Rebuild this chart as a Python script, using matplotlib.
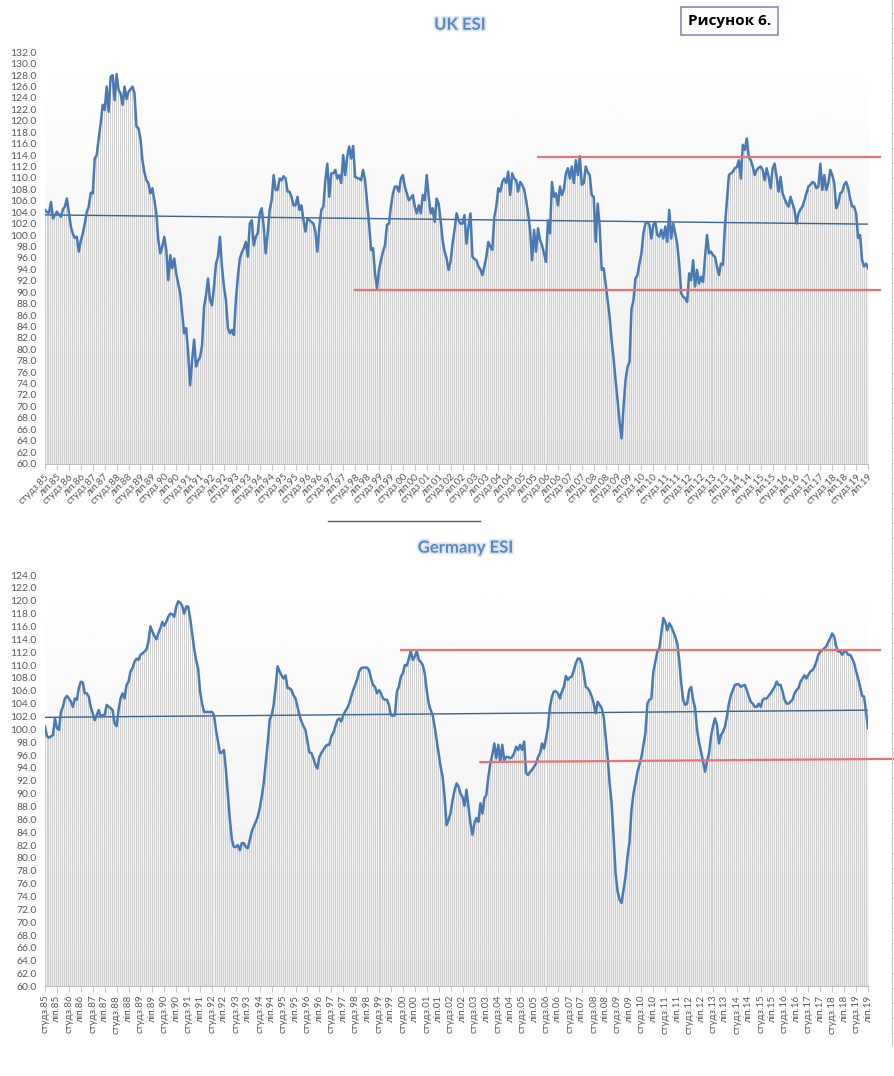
import matplotlib
matplotlib.use('Agg')
import matplotlib.pyplot as plt
import matplotlib.patheffects as pe
from matplotlib.lines import Line2D
import numpy as np

plt.rcParams['font.family'] = ['Lato', 'Open Sans', 'DejaVu Sans']

# monthly ESI, Jan 1985 .. Jul 2019 (415 months)
uk_esi = [
    104.4, 104.0, 103.9, 105.8, 102.9, 103.5, 104.1, 103.6, 103.2, 104.5, 105.0, 106.4,  # 85
    104.0, 101.5, 100.2, 99.5, 99.7, 97.1, 99.0, 100.3, 102.0, 104.0, 105.0, 107.4,      # 86
    107.3, 113.4, 114.0, 116.9, 119.5, 122.8, 121.9, 126.0, 121.6, 127.7, 128.0, 123.6,  # 87
    128.2, 125.4, 124.8, 122.8, 126.0, 123.8, 125.1, 125.5, 126.0, 124.8, 119.0, 118.7,  # 88
    116.9, 113.1, 111.0, 109.6, 109.1, 107.3, 108.2, 106.1, 103.8, 99.1, 96.8, 98.0,     # 89
    99.7, 97.4, 92.1, 96.5, 94.2, 95.9, 93.3, 91.5, 89.8, 86.3, 82.8, 83.7,              # 90
    79.3, 73.7, 78.1, 81.7, 77.0, 78.0, 78.7, 80.7, 87.4, 89.5, 92.4, 88.6,              # 91
    87.7, 91.0, 95.0, 96.2, 99.7, 94.5, 91.0, 88.6, 83.7, 82.8, 83.4, 82.5,              # 92
    88.6, 92.7, 95.9, 97.0, 97.7, 98.8, 96.2, 102.0, 102.6, 98.2, 99.7, 100.3,           # 93
    103.8, 104.7, 101.5, 96.8, 100.3, 104.4, 106.1, 110.5, 107.9, 107.9, 109.9, 109.6,   # 94
    110.3, 109.9, 107.6, 107.6, 106.7, 105.2, 105.2, 106.7, 104.4, 105.2, 102.6, 100.6,  # 95
    102.9, 102.6, 102.3, 102.0, 100.6, 97.1, 101.5, 104.4, 105.0, 109.6, 112.5, 106.7,   # 96
    110.8, 110.8, 111.4, 109.9, 110.5, 109.1, 114.0, 110.5, 113.7, 115.5, 113.4, 115.6,  # 97
    110.2, 110.0, 109.9, 109.6, 111.4, 109.6, 105.8, 102.0, 97.4, 97.7, 93.3, 90.7,      # 98
    93.9, 95.6, 97.1, 98.2, 101.8, 102.0, 105.0, 107.3, 108.5, 108.5, 107.6, 109.9,      # 99
    110.5, 108.5, 107.3, 106.1, 106.5, 107.0, 105.0, 103.8, 105.2, 103.8, 107.0, 106.1,  # 00
    110.5, 106.7, 103.8, 104.7, 102.3, 106.4, 105.5, 102.6, 99.1, 97.1, 95.9, 93.9,      # 01
    95.4, 98.5, 100.9, 103.8, 102.6, 102.0, 102.0, 103.5, 98.5, 101.5, 103.8, 96.2,      # 02
    95.8, 95.6, 94.5, 94.0, 93.0, 94.5, 96.2, 98.8, 98.0, 97.4, 103.2, 105.0,            # 03
    108.2, 107.6, 109.3, 109.9, 109.1, 111.1, 107.0, 110.8, 109.9, 109.6, 107.6, 109.3,  # 04
    108.8, 108.0, 106.1, 103.8, 100.9, 95.6, 100.9, 97.1, 101.2, 99.1, 98.2, 96.8,       # 05
    95.3, 102.6, 100.3, 109.3, 106.7, 107.3, 105.2, 108.5, 107.0, 108.0, 110.8, 111.7,   # 06
    109.9, 112.0, 109.1, 113.1, 110.5, 113.8, 108.8, 109.1, 112.0, 111.0, 110.5, 107.0,  # 07
    106.7, 98.8, 105.5, 101.5, 93.9, 94.2, 91.5, 88.6, 85.7, 81.6, 78.4, 74.6,           # 08
    71.1, 67.3, 64.4, 69.9, 74.6, 76.9, 77.8, 87.1, 88.6, 92.4, 93.0, 95.0,              # 09
    96.8, 100.3, 102.0, 102.3, 101.8, 99.4, 101.8, 102.3, 100.0, 99.7, 100.9, 99.4,      # 10
    101.5, 98.8, 104.4, 99.4, 102.0, 100.3, 98.5, 95.0, 89.8, 89.2, 88.9, 88.3,          # 11
    93.3, 92.1, 95.6, 91.0, 93.9, 91.5, 92.7, 91.8, 96.2, 100.0, 96.8, 97.1,             # 12
    96.5, 96.2, 94.5, 93.0, 95.0, 94.8, 101.5, 106.1, 110.5, 110.8, 111.1, 111.7,        # 13
    111.9, 113.1, 109.9, 115.8, 114.9, 116.9, 113.7, 113.1, 112.0, 110.5, 111.4, 111.8,  # 14
    112.0, 111.4, 109.6, 111.7, 110.2, 108.2, 111.7, 112.5, 110.2, 107.6, 110.2, 107.3,  # 15
    106.4, 105.5, 105.0, 106.7, 105.5, 104.4, 102.0, 103.8, 104.5, 105.0, 106.1, 107.3,  # 16
    108.5, 108.8, 109.3, 109.1, 108.2, 108.5, 112.5, 107.9, 110.5, 107.9, 109.1, 111.4,  # 17
    110.5, 109.1, 104.7, 105.5, 107.3, 107.6, 108.8, 109.3, 108.2, 106.4, 105.0, 105.0,  # 18
    103.8, 99.5, 100.0, 95.6, 94.5, 95.0, 94.2,                                          # 19
]

de_esi = [
    100.4, 98.9, 98.7, 98.9, 99.1, 101.7, 100.2, 99.9, 102.7, 103.5, 104.8, 105.2,       # 85
    104.8, 104.3, 103.5, 104.8, 104.6, 106.4, 107.4, 107.3, 105.6, 105.6, 105.1, 103.5,  # 86
    102.5, 101.4, 102.2, 103.0, 102.0, 102.2, 102.2, 103.8, 103.5, 103.3, 103.0, 100.9,  # 87
    100.5, 103.0, 104.8, 105.6, 104.8, 106.9, 107.4, 109.0, 109.5, 110.5, 111.0, 110.8,  # 88
    111.6, 111.8, 112.1, 112.4, 113.6, 116.0, 115.2, 114.5, 114.0, 114.9, 115.7, 116.7,  # 89
    116.1, 116.7, 117.5, 118.0, 117.9, 117.5, 119.1, 119.9, 119.7, 119.2, 118.0, 119.1,  # 90
    119.1, 117.3, 114.9, 112.6, 110.8, 109.5, 105.9, 104.0, 102.7, 102.7, 102.7, 102.7,  # 91
    102.7, 102.2, 99.9, 98.1, 96.3, 96.4, 96.8, 93.7, 89.8, 85.9, 82.8, 81.7,            # 92
    81.7, 82.0, 81.2, 82.3, 82.3, 81.7, 81.5, 82.8, 84.1, 84.9, 85.6, 86.4,              # 93
    87.7, 89.5, 91.6, 94.7, 97.8, 101.5, 102.2, 103.8, 106.6, 109.8, 109.0, 108.4,       # 94
    107.9, 108.4, 106.4, 106.4, 106.1, 105.3, 104.8, 103.5, 102.2, 101.2, 100.5, 99.9,   # 95
    98.1, 96.4, 96.3, 95.5, 94.5, 93.9, 95.7, 96.3, 96.8, 97.3, 97.6, 97.6,              # 96
    98.9, 99.4, 100.4, 101.4, 101.7, 101.2, 102.2, 102.8, 103.3, 104.0, 105.1, 106.1,    # 97
    106.9, 107.8, 109.0, 109.5, 109.6, 109.6, 109.6, 109.2, 107.9, 106.9, 106.6, 105.6,  # 98
    106.1, 105.6, 104.8, 104.6, 104.6, 103.8, 102.2, 102.1, 102.2, 105.9, 106.6, 108.2,  # 99
    108.7, 110.0, 109.9, 111.0, 112.2, 110.8, 111.3, 112.2, 110.8, 110.5, 110.0, 108.7,  # 00
    106.1, 104.0, 103.0, 102.2, 100.4, 98.3, 96.3, 94.2, 92.6, 89.5, 85.1, 85.9,         # 01
    87.0, 89.0, 90.5, 91.6, 91.1, 90.0, 89.5, 88.1, 90.6, 88.0, 85.4, 83.6,              # 02
    85.4, 86.2, 85.6, 88.5, 86.9, 89.3, 89.8, 92.6, 94.7, 96.0, 97.8, 95.5,              # 03
    97.6, 95.0, 97.6, 95.2, 95.7, 95.7, 95.5, 95.7, 96.3, 97.3, 96.8, 97.6,              # 04
    96.8, 98.1, 93.2, 92.9, 93.4, 93.7, 94.2, 94.7, 95.7, 96.3, 97.8, 97.0,              # 05
    98.6, 100.4, 103.5, 105.1, 105.9, 105.9, 105.6, 104.8, 105.9, 106.6, 108.3, 107.7,   # 06
    108.1, 108.2, 109.2, 110.3, 111.0, 111.0, 110.3, 108.7, 106.6, 106.4, 105.9, 105.1,  # 07
    104.0, 102.5, 104.3, 103.8, 103.3, 102.0, 98.9, 95.7, 91.6, 88.5, 83.3, 77.6,        # 08
    74.8, 73.5, 73.0, 75.0, 77.1, 80.2, 82.5, 87.5, 90.0, 91.6, 93.4, 94.5,              # 09
    95.7, 97.5, 99.4, 104.0, 104.6, 104.8, 109.0, 110.5, 112.1, 112.6, 114.9, 117.3,     # 10
    116.7, 115.4, 116.5, 116.0, 115.2, 114.4, 113.4, 110.8, 107.2, 104.6, 103.8, 104.0,  # 11
    106.1, 106.6, 104.6, 103.3, 99.9, 98.0, 96.5, 95.0, 93.4, 95.0, 96.3, 98.9,          # 12
    100.5, 101.7, 100.7, 97.8, 99.1, 99.6, 100.4, 102.0, 104.0, 105.3, 106.1, 106.9,     # 13
    107.0, 107.0, 106.6, 106.8, 106.9, 106.1, 105.1, 104.3, 104.0, 103.5, 103.5, 104.0,  # 14
    103.5, 104.6, 104.8, 104.8, 105.2, 105.6, 106.1, 106.6, 107.4, 106.9, 106.9, 105.9,  # 15
    104.6, 104.0, 104.0, 104.3, 104.6, 105.6, 106.1, 106.4, 107.4, 107.9, 108.4, 107.9,  # 16
    108.5, 109.0, 109.2, 109.7, 110.5, 111.6, 112.1, 112.3, 112.6, 112.9, 113.6, 114.2,  # 17
    114.9, 114.4, 112.9, 112.1, 112.1, 111.6, 112.1, 112.1, 111.6, 111.6, 111.0, 110.3,  # 18
    109.0, 107.9, 106.6, 105.2, 105.1, 102.7, 100.2,                                     # 19
]

# hand-drawn red support/resistance lines: (start month, end month, start value, end value)
uk_red = [(248, 420, 113.7, 113.7), (156, 420, 90.4, 90.4)]
de_red = [(179, 420, 112.3, 112.3), (219, 427, 94.9, 95.4)]

half_year = ['студз.', 'ліп.']
years = list(range(1985, 2020))

n = len(uk_esi)
months = np.arange(n)
tick_pos = months[::6]
tick_lab = [half_year[(m // 6) % 2] + '%02d' % (years[m // 12] % 100) for m in tick_pos]

LINE = '#4a7ab5'
TREND = '#3b6391'
RED = '#e87373'
GRAY = '#595959'


def draw_panel(ax, vals, ymax, red, rot):
    vals = np.array(vals)
    # light gradient behind the bars
    grad = np.linspace(1.0, 0.93, 256).reshape(-1, 1)
    ax.imshow(grad, cmap='gray', vmin=0, vmax=1, aspect='auto',
              extent=(0, n - 1, 60, ymax), origin='upper', zorder=0)
    ax.bar(months, vals - 60, bottom=60, width=0.5, color='#cfcfcf', linewidth=0, zorder=1)
    ax.plot(months, vals, color=LINE, lw=1.8, zorder=4, solid_joinstyle='round')
    k, b = np.polyfit(months, vals, 1)
    ax.plot([0, n - 1], [b, b + k * (n - 1)], color=TREND, lw=1.0, zorder=3)
    for x0, x1, y0, y1 in red:
        ax.plot([x0, x1], [y0, y1], color=RED, lw=1.6, zorder=5, clip_on=False)
    ax.set_xlim(0, n - 1)
    ax.set_ylim(60, ymax)
    ax.set_yticks(np.arange(60, ymax + 0.1, 2))
    ax.set_yticklabels(['%.1f' % v for v in np.arange(60, ymax + 0.1, 2)])
    ax.tick_params(axis='y', length=0, labelsize=7.5, colors=GRAY, pad=6)
    ax.set_xticks(tick_pos)
    if rot == 45:
        ax.set_xticklabels(tick_lab, rotation=45, ha='right', va='top', rotation_mode='anchor')
    else:
        ax.set_xticklabels(tick_lab, rotation=90, ha='center', va='top')
    ax.tick_params(axis='x', length=4, width=0.6, color='#bfbfbf', labelsize=7, labelcolor=GRAY, pad=2)
    for s in ['top', 'right', 'left']:
        ax.spines[s].set_visible(False)
    ax.spines['bottom'].set_color('#bfbfbf')
    ax.spines['bottom'].set_linewidth(0.8)


fig = plt.figure(figsize=(8.95, 10.76), dpi=100)

ax1 = fig.add_axes([0.0503, 0.5692, 0.9196, 0.3822])
draw_panel(ax1, uk_esi, 132, uk_red, 45)

ax2 = fig.add_axes([0.0503, 0.0832, 0.9196, 0.3824])
draw_panel(ax2, de_esi, 124, de_red, 90)

title_fx = [pe.withStroke(linewidth=2.5, foreground='#dbe5f3')]
fig.text(0.514, 0.977, 'UK ESI', ha='center', va='center', fontsize=12, fontweight='bold',
         color='#5b87c2', path_effects=title_fx)
fig.text(0.52, 0.491, 'Germany ESI', ha='center', va='center', fontsize=12, fontweight='bold',
         color='#5b87c2', path_effects=title_fx)

fig.text(0.8156, 0.9805, 'Рисунок 6.', ha='center', va='center', fontsize=11, fontweight='bold',
         color='black', family=['Open Sans', 'DejaVu Sans'],
         bbox=dict(boxstyle='square,pad=0.45', fc='white', ec='#8a8ac4', lw=1.2))

# separator between the two charts
fig.add_artist(Line2D([328 / 895, 480 / 895], [1 - 521 / 1076] * 2, color='#555555', lw=1))

# sheet ruler on the right edge
W, H = 895, 1076
fig.add_artist(Line2D([892 / W] * 2, [1, 1 - 1045 / H], color='#c8c8c8', lw=0.8))
for yp in range(13, 1046, 15):
    fig.add_artist(Line2D([892 / W, 896 / W], [1 - yp / H] * 2, color='#c8c8c8', lw=0.8))

fig.savefig('out.png', dpi=100)
